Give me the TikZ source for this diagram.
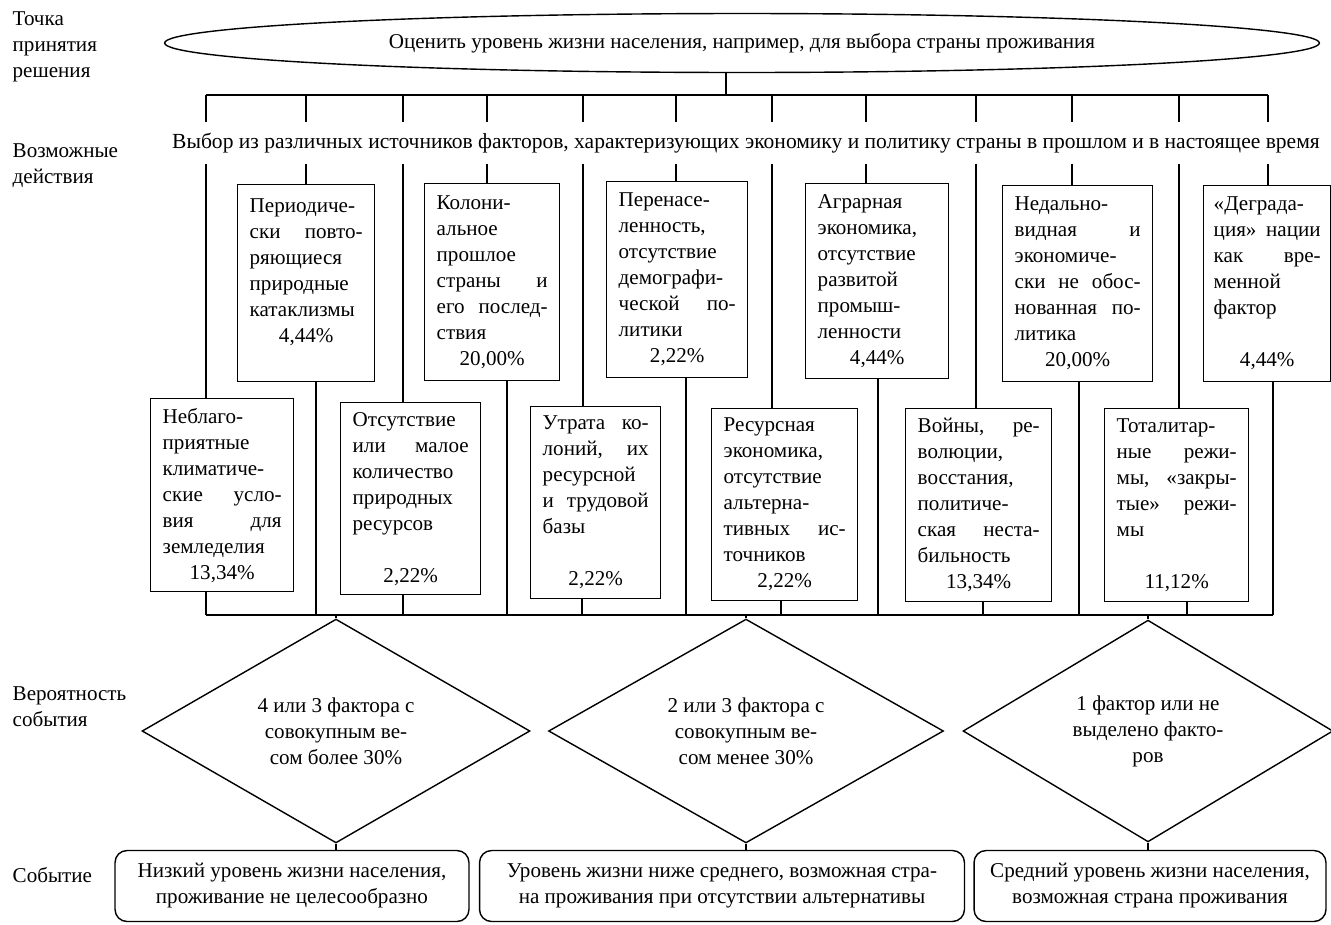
\documentclass[tikz,border=0pt]{standalone}
\usepackage{fontspec}
\setmainfont{Liberation Serif}
\usetikzlibrary{shapes.geometric}
\tikzset{lbl/.style = {anchor=west, align=left, inner sep=0}}
\tikzset{factor/.style = {draw, anchor=north west, align=justify, inner xsep=0.24cm, inner ysep=0}}
\tikzset{cond/.style = {draw, diamond, inner sep=0, minimum width=7.76cm, minimum height=3.66cm, align=center}}
\tikzset{event/.style = {draw, rounded corners=0.24cm, minimum height=1.42cm, align=center}}
\newcommand{\jl}{\linebreak}
\newcommand{\nl}{\newline}
\newcommand{\pline}[1]{\newline\mbox{}\hfill #1\hfill\mbox{}}
\tolerance=10000
\hyphenpenalty=10000

\begin{document}
\begin{tikzpicture}[x=0.02cm, y=-0.02cm, line width=0.8pt, font=\fontsize{12}{14.8}\selectfont]
    \useasboundingbox (0,0) rectangle (1331,924);

    \node [lbl] (lpoint) at (12,47) {Точка\\принятия\\решения};
    \node [lbl] (lact) at (12,166) {Возможные\\действия};
    \node [lbl] (lprob) at (12,707) {Вероятность\\события};
    \node [lbl] (levent) at (12,875) {Событие};

    \node [draw, ellipse, inner sep=0, minimum width=23.1cm, minimum height=1.18cm] (goal) at (742,43) {Оценить уровень жизни населения, например, для выбора страны проживания};
    \node [inner sep=0, minimum height=0.8cm, font=\fontsize{12.25}{14.8}\selectfont] (choice) at (746,143) {Выбор из различных источников факторов, характеризующих экономику и политику страны в прошлом и в настоящее время};

    % upper row of factors
    \node [factor, text width=2.26cm, minimum height=3.94cm] (p1) at (237,184) {Периодиче-\nl ски повто-\jl ряющиеся\nl природные\nl катаклизмы\pline{4,44\%}\nl\mbox{}};
    \node [factor, text width=2.22cm, minimum height=3.94cm] (p2) at (424,183) {Колони-\nl альное\nl прошлое\nl страны и\jl его послед-\jl ствия\pline{20,00\%}};
    \node [factor, text width=2.34cm, minimum height=3.92cm] (p3) at (606,181) {Перенасе-\nl ленность,\nl отсутствие\nl демографи-\nl ческой по-\jl литики\pline{2,22\%}};
    \node [factor, text width=2.38cm, minimum height=3.90cm] (p4) at (805,183) {Аграрная\nl экономика,\nl отсутствие\nl развитой\nl промыш-\nl ленности\pline{4,44\%}};
    \node [factor, text width=2.52cm, minimum height=3.92cm] (p5) at (1002,185) {Недально-\nl видная и\jl экономиче-\nl ски не обос-\jl нованная по-\jl литика\pline{20,00\%}};
    \node [factor, text width=2.14cm, inner xsep=0.2cm, minimum height=3.92cm] (p6) at (1203,185) {«Деграда-\nl ция» нации\jl как вре-\jl менной\nl фактор\nl\mbox{}\pline{4,44\%}};

    % lower row of factors
    \node [factor, text width=2.38cm, minimum height=3.86cm] (b1) at (150,398) {Неблаго-\nl приятные\nl климатиче-\nl ские усло-\jl вия для\jl земледелия\pline{13,34\%}};
    \node [factor, text width=2.32cm, minimum height=3.84cm] (b2) at (340,402) {Отсутствие\nl или малое\jl количество\nl природных\nl ресурсов\nl\mbox{}\pline{2,22\%}};
    \node [factor, text width=2.12cm, minimum height=3.84cm] (b3) at (530,406) {Утрата ко-\jl лоний, их\jl ресурсной\nl и трудовой\jl базы\nl\mbox{}\pline{2,22\%}};
    \node [factor, text width=2.44cm, minimum height=3.84cm] (b4) at (711,408) {Ресурсная\nl экономика,\nl отсутствие\nl альтерна-\nl тивных ис-\jl точников\pline{2,22\%}};
    \node [factor, text width=2.44cm, minimum height=3.86cm] (b5) at (905,408) {Войны, ре-\jl волюции,\nl восстания,\nl политиче-\nl ская неста-\jl бильность\pline{13,34\%}};
    \node [factor, text width=2.40cm, minimum height=3.86cm] (b6) at (1104,408) {Тоталитар-\nl ные режи-\jl мы, «закры-\jl тые» режи-\jl мы\nl\mbox{}\pline{11,12\%}};

    \draw (726,0 |- goal.south) -- (726,95);
    \draw (206,95) -- (1268,95);
    \foreach \nm/\xt/\xb in {b1/206/206, p1/306/316, b2/403/403, p2/487/507, b3/583/582, p3/676/686, b4/772/781, p4/866/878, b5/976/983, p5/1072/1079, b6/1179/1187, p6/1268/1273} {
      \draw (\xt,95) -- (\xt,0 |- choice.north);
      \draw (\xt,0 |- choice.south) -- (\xt,0 |- \nm.north);
      \draw (\xb,0 |- \nm.south) -- (\xb,615);
    }
    \draw (206,615) -- (1273,615);

    \node [cond] (d1) at (336,731) {4 или 3 фактора с\\совокупным ве-\\сом более 30\%};
    \node [cond, minimum width=7.9cm] (d2) at (746,731) {2 или 3 фактора с\\совокупным ве-\\сом менее 30\%};
    \node [cond, minimum width=7.4cm] (d3) at (1148,731) {1 фактор или не\\выделено факто-\\ров};

    \node [event, minimum width=7.08cm] (e1) at (292,886) {Низкий уровень жизни населения,\\проживание не целесообразно};
    \node [event, minimum width=9.7cm] (e2) at (722,886) {Уровень жизни ниже среднего, возможная стра-\\на проживания при отсутствии альтернативы};
    \node [event, minimum width=7.04cm] (e3) at (1150,886) {Средний уровень жизни населения,\\возможная страна проживания};

    \foreach \d/\e in {d1/e1, d2/e2, d3/e3} {
      \draw (\d.north |- 0,615) -- (\d.north);
      \draw (\d.south) -- (\d.south |- \e.north);
    }
\end{tikzpicture}
\end{document}
